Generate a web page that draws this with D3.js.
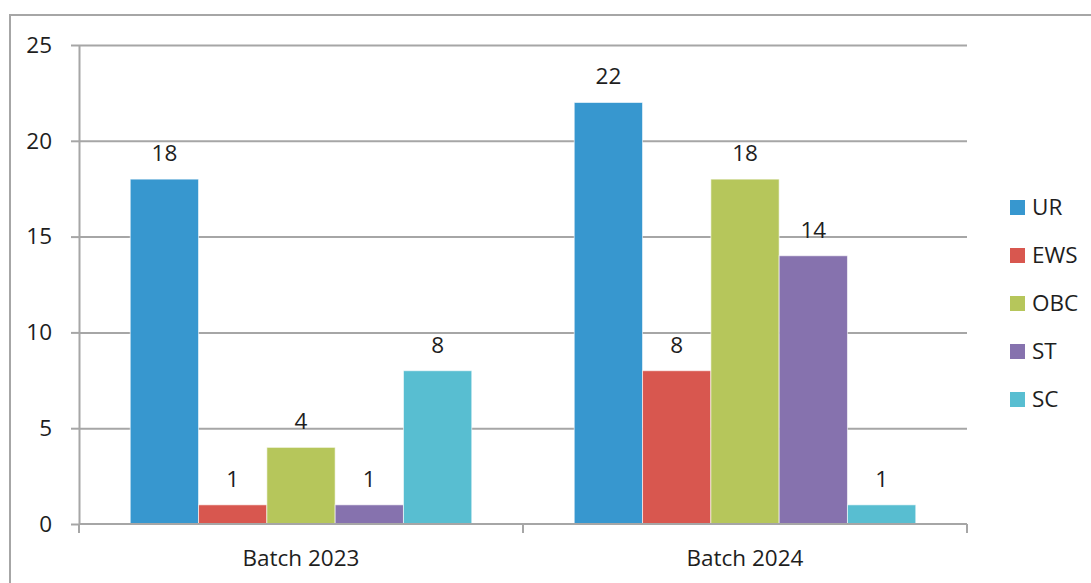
<!DOCTYPE html>
<html>
<head>
<meta charset="utf-8">
<script src="https://cdn.jsdelivr.net/npm/d3@7"></script>
<style>
  body { margin: 0; background: #fff; }
  text { font-family: "Open Sans", sans-serif; fill: #1e1e1e; }
</style>
</head>
<body>
<div id="chart"></div>
<script>
const batches = ["Batch 2023", "Batch 2024"];
const groups = ["UR", "EWS", "OBC", "ST", "SC"];
const batch2023 = [18, 1, 4, 1, 8];
const batch2024 = [22, 8, 18, 14, 1];
const yTicks = [0, 5, 10, 15, 20, 25];
const colors = ["#3797CF", "#D8574F", "#B6C65B", "#8672AE", "#58BED1"];

const W = 1091, H = 583;
const margin = { top: 45, right: 124, bottom: 59, left: 79 };
const width = W - margin.left - margin.right;
const height = H - margin.top - margin.bottom;
const fontSize = "22.5px";

const seriesByBatch = [batch2023, batch2024];

const svg = d3.select("#chart").append("svg")
    .attr("width", W)
    .attr("height", H);

// outer frame
svg.append("path")
    .attr("d", `M10,${H} V15 H${W}`)
    .attr("fill", "none")
    .attr("stroke", "#a6a6a6")
    .attr("stroke-width", 2);

const g = svg.append("g")
    .attr("transform", `translate(${margin.left},${margin.top})`);

const x0 = d3.scaleBand().domain(batches).range([0, width]).padding(0);
// gap width 150% of bar width
const barW = x0.bandwidth() / (groups.length + 1.5);
const x1 = d3.scaleBand().domain(groups)
    .range([barW * 0.75, x0.bandwidth() - barW * 0.75]).padding(0);
const y = d3.scaleLinear().domain([0, 25]).range([height, 0]);

// gridlines
g.append("g")
    .call(d3.axisLeft(y).tickValues(yTicks.filter(d => d > 0)).tickSize(-width).tickFormat(""))
    .call(s => s.select(".domain").remove())
    .selectAll("line").attr("stroke", "#a6a6a6").attr("stroke-width", 2);

// y axis
const yAxis = g.append("g")
    .call(d3.axisLeft(y).tickValues(yTicks).tickSize(8).tickPadding(19).tickSizeOuter(0));
yAxis.select(".domain").attr("stroke", "#a6a6a6").attr("stroke-width", 2);
yAxis.selectAll(".tick line").attr("stroke", "#a6a6a6").attr("stroke-width", 2);
yAxis.selectAll("text").style("font-size", fontSize).attr("fill", "#1e1e1e");

// bars
const batchG = g.selectAll(".batch")
    .data(batches)
    .join("g")
    .attr("class", "batch")
    .attr("transform", d => `translate(${x0(d)},0)`);

batchG.selectAll("rect")
    .data((d, i) => groups.map((k, j) => ({ k, v: seriesByBatch[i][j], c: colors[j] })))
    .join("rect")
    .attr("x", d => x1(d.k))
    .attr("y", d => y(d.v))
    .attr("width", x1.bandwidth())
    .attr("height", d => height - y(d.v))
    .attr("fill", d => d.c)
    .attr("stroke", "#ffffff")
    .attr("stroke-opacity", 0.6)
    .attr("stroke-width", 1);

batchG.selectAll(".lbl")
    .data((d, i) => groups.map((k, j) => ({ k, v: seriesByBatch[i][j] })))
    .join("text")
    .attr("class", "lbl")
    .attr("x", d => x1(d.k) + x1.bandwidth() / 2)
    .attr("y", d => y(d.v) - 18)
    .attr("text-anchor", "middle")
    .style("font-size", fontSize)
    .text(d => d.v);

// x axis
const xAxis = g.append("g")
    .attr("transform", `translate(0,${height})`);
xAxis.append("line")
    .attr("x1", 0).attr("x2", width)
    .attr("stroke", "#a6a6a6").attr("stroke-width", 2);
xAxis.selectAll(".sep")
    .data([0, ...batches.map(b => x0(b) + x0.bandwidth())])
    .join("line")
    .attr("class", "sep")
    .attr("x1", d => d).attr("x2", d => d)
    .attr("y1", 0).attr("y2", 9)
    .attr("stroke", "#a6a6a6").attr("stroke-width", 2);
xAxis.selectAll(".cat")
    .data(batches)
    .join("text")
    .attr("class", "cat")
    .attr("x", d => x0(d) + x0.bandwidth() / 2)
    .attr("y", 42)
    .attr("text-anchor", "middle")
    .style("font-size", fontSize)
    .text(d => d);

// legend
const legend = svg.append("g")
    .attr("transform", "translate(1010,200)");
const item = legend.selectAll("g")
    .data(groups)
    .join("g")
    .attr("transform", (d, i) => `translate(0,${i * 48})`);
item.append("rect")
    .attr("width", 15).attr("height", 15)
    .attr("fill", (d, i) => colors[i]);
item.append("text")
    .attr("x", 22).attr("y", 15)
    .style("font-size", fontSize)
    .text(d => d);
</script>
</body>
</html>
